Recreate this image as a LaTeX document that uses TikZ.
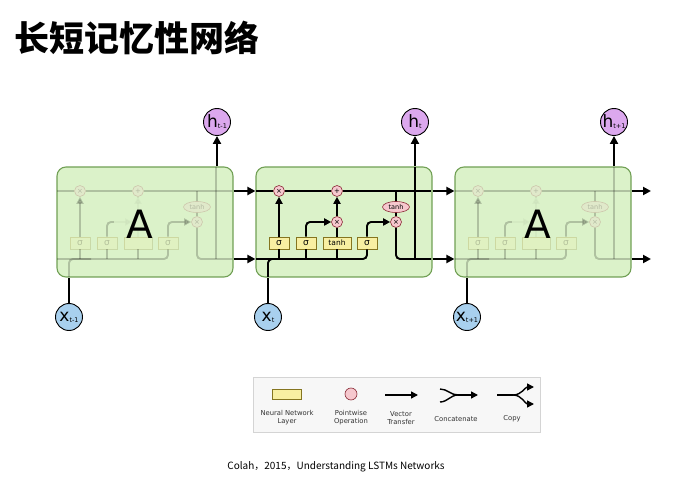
\documentclass[tikz,border=0pt]{standalone}
\usepackage{fontspec}
\setmainfont{DejaVu Sans}
\newfontfamily\cjk{Noto Sans CJK SC}
\usetikzlibrary{arrows.meta,shapes.geometric}

\definecolor{cellfill}{HTML}{DBF2C9}
\definecolor{celledge}{HTML}{71A055}
\definecolor{layerfill}{HTML}{F8EFA2}
\definecolor{layeredge}{HTML}{857520}
\definecolor{opfill}{HTML}{F6C8CE}
\definecolor{opedge}{HTML}{8A2A36}
\definecolor{hfill}{HTML}{DCA8EE}
\definecolor{xfill}{HTML}{A8D0EE}
\definecolor{legfill}{HTML}{F7F7F7}
\definecolor{legedge}{HTML}{D4D4D4}

\newcommand{\subtxt}[1]{\raisebox{-1pt}{\fontsize{6.5}{6.5}\selectfont #1}}

\begin{document}
\begin{tikzpicture}
	[
	x=1pt, y=-1pt,
	align=center,
	line width=2pt,
	>={Triangle[length=8pt,width=8pt]},
	cell/.style={draw=celledge, fill=cellfill, line width=1.1pt, rounded corners=9pt, minimum width=176pt, minimum height=110pt},
	layer/.style={draw=layeredge, fill=layerfill, line width=0.8pt, minimum width=20pt, minimum height=12pt, inner sep=0pt, font=\fontsize{9}{9}\selectfont},
	op/.style={circle, draw=opedge, fill=opfill, line width=0.6pt, minimum size=11pt, inner sep=0pt, font=\fontsize{7}{7}\selectfont},
	opwide/.style={ellipse, draw=opedge, fill=opfill, line width=0.6pt, minimum width=27pt, minimum height=11pt, inner sep=0pt, font=\fontsize{6.5}{6.5}\selectfont},
	io/.style={circle, draw=black, line width=0.9pt, minimum size=27pt, inner sep=0pt, font=\fontsize{17}{17}\selectfont},
	inner/.style={line width=1.9pt, >={Triangle[length=7pt,width=7pt]}, rounded corners=4pt},
	legtext/.style={font=\fontsize{6.8}{8}\selectfont, text=black!80},
	big/.style={font=\fontsize{39}{39}\selectfont, inner sep=0pt},
	]
		% title
		\node[anchor=west, font=\cjk\bfseries\fontsize{35}{35}\selectfont] (title) at (10,38) {长短记忆性网络};
		
		% cells
		\node[cell] (cl) at (145,222) {};
		\node[cell] (cm) at (344,222) {};
		\node[cell] (cr) at (543,222) {};
		\coordinate (ct) at (0,191);
		\coordinate (hl) at (0,259);
		
		% inside of each cell, the outer ones faded (their hidden labels left out)
		\foreach \dx/\op/\tl/\ml in {-199/0.2/{}/{}, 0/1/tanh/×, 199/0.2/{}/{}}{
			\begin{scope}[xshift=\dx pt, opacity=\op]
				\node[op] (mulf) at (279,191) {×};
				\node[op] (add) at (337,191) {+};
				\node[op] (muli) at (337,222) {\ml};
				\node[opwide] (tanhc) at (396,207) {tanh};
				\node[op] (mulo) at (396,222) {×};
				\node[layer] (sg1) at (279,243) {σ};
				\node[layer] (sg2) at (306,243) {σ};
				\node[layer, minimum width=28pt, font=\fontsize{7.5}{7.5}\selectfont] (tnl) at (337,243) {\tl};
				\node[layer] (sg3) at (367,243) {σ};
				\coordinate (cin) at (256,191);
				\coordinate (cout) at (431,191);
				\coordinate (hin) at (256,259);
				\coordinate (hout) at (431,259);
				\coordinate (xb) at (268,277);
				\coordinate (xj) at (290,259);
				\coordinate (ctap) at (396,191);
				\coordinate (hb) at (415,259);
				\coordinate (ht) at (415,167);
				
				\draw[inner] (cin) -- (mulf) -- (add) -- (cout);
				\draw[inner] (hin) -| (sg3);
				\draw[inner] (xb) |- (xj);
				\foreach \l in {sg1,sg2,tnl} \draw[inner] (\l) -- (\l |- hin);
				\draw[inner, ->] (sg1) -- (mulf);
				\draw[inner, ->] (sg2.north) |- (muli);
				\draw[inner] (tnl) -- (muli);
				\draw[inner, ->] (muli) -- (add);
				\draw[inner, ->] (sg3.north) |- (mulo);
				\draw[inner] (ctap) -- (tanhc) -- (mulo);
				\draw[inner] (mulo.south) |- (hout);
				\draw[inner] (hb) -- (ht);
			\end{scope}
		}
		
		% cell labels, on a light patch
		\foreach \cx in {140,538} \fill[cellfill, opacity=0.85, rounded corners=6pt] (\cx-26,198) rectangle (\cx+26,237);
		\node[big] (al) at (140,224) {A};
		\node[big] (ar) at (538,224) {A};
		
		% inputs and outputs
		\node[io, fill=xfill] (x1) at (69,317) {x\subtxt{t-1}};
		\node[io, fill=xfill] (x2) at (268,317) {x\subtxt{t}};
		\node[io, fill=xfill] (x3) at (467,317) {x\subtxt{t+1}};
		\node[io, fill=hfill] (h1) at (217,122) {h\subtxt{t-1}};
		\node[io, fill=hfill] (h2) at (415,122) {h\subtxt{t}};
		\node[io, fill=hfill] (h3) at (614,122) {h\subtxt{t+1}};
		\coordinate (endc) at (651,191);
		\coordinate (endh) at (651,259);
		
		\foreach \x/\c in {x1/cl,x2/cm,x3/cr} \draw (\x) -- (\x |- \c.south);
		\foreach \h/\c in {h1/cl,h2/cm,h3/cr} \draw[->] (\h |- \c.north) -- (\h);
		\foreach \from/\to in {cl/cm,cm/cr} \foreach \y in {ct,hl} \draw[->] (\from.east |- \y) -- (\to.west |- \y);
		\draw[->] (cr.east |- ct) -- (endc);
		\draw[->] (cr.east |- hl) -- (endh);
		
		% legend
		\node[draw=legedge, fill=legfill, line width=0.6pt, minimum width=287pt, minimum height=55pt] (legend) at (396.5,404.5) {};
		\node[layer, minimum width=29pt, minimum height=10pt] (lgl) at (287,394) {};
		\node[op, minimum size=12pt] (lgo) at (351,394) {};
		\node[legtext] (tl) at (287,418) {Neural Network\\Layer};
		\node[legtext] (to) at (351,418) {Pointwise\\Operation};
		\node[legtext] (tv) at (401,418) {Vector\\Transfer};
		\node[legtext] (tc) at (456,419) {Concatenate};
		\node[legtext] (tp) at (512,419) {Copy};
		
		\coordinate (va) at (385,395);
		\coordinate (vb) at (418,395);
		\coordinate (ca) at (440,389);
		\coordinate (cb) at (440,402);
		\coordinate (cj) at (458,395);
		\coordinate (ce) at (478,395);
		\coordinate (pa) at (497,395);
		\coordinate (pj) at (513,395);
		\coordinate (pu) at (534,387);
		\coordinate (pd) at (534,404);
		
		\draw[inner, line width=1.4pt, ->] (va) -- (vb);
		\foreach \from in {ca,cb} \draw[line width=1.4pt] (\from) to[out=0, in=180] (cj);
		\draw[inner, line width=1.4pt, ->] (cj) -- (ce);
		\draw[line width=1.4pt] (pa) -- (pj);
		\foreach \to in {pu,pd} \draw[inner, line width=1.4pt, ->] (pj) to[out=0, in=180] (\to);
		
		% source
		\node[font=\cjk\fontsize{10}{12}\selectfont] (cite) at (336,467) {Colah，2015，Understanding LSTMs Networks};
		
		\useasboundingbox (0,0) rectangle (678,489);
	\end{tikzpicture}
\end{document}
